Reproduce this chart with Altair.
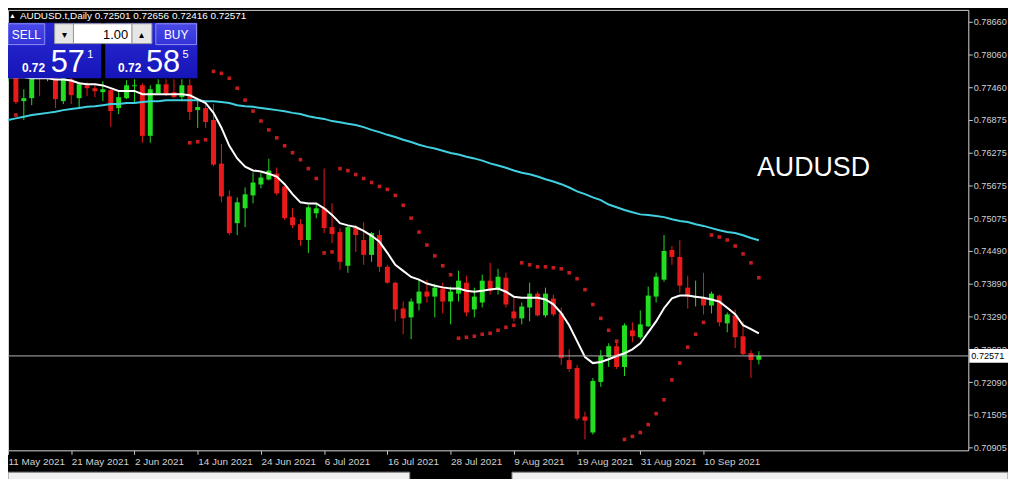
import json
import altair as alt
import pandas as pd

# ---------------- data ----------------
header_text = "AUDUSD.t,Daily  0.72501 0.72656 0.72416 0.72571"
symbol_label = "AUDUSD"
date_labels = ["11 May 2021", "21 May 2021", "2 Jun 2021", "14 Jun 2021", "24 Jun 2021",
               "6 Jul 2021", "16 Jul 2021", "28 Jul 2021", "9 Aug 2021", "19 Aug 2021",
               "31 Aug 2021", "10 Sep 2021"]
date_tick_bars = [0, 8, 16, 24, 32, 40, 48, 56, 64, 72, 80, 88]
price_ticks = [0.78660, 0.78060, 0.77460, 0.76875, 0.76275, 0.75675, 0.75075,
               0.74490, 0.73890, 0.73290, 0.72690, 0.72090, 0.71505, 0.70905]
last_price = 0.72571
bid_big, bid_small, bid_prefix = "57", "1", "0.72"
ask_big, ask_small, ask_prefix = "58", "5", "0.72"
lot_text = "1.00"

opens = [0.77720, 0.77756, 0.77214, 0.77268, 0.77793, 0.77648, 0.77720, 0.77214, 0.77612, 0.77268,
         0.77503, 0.77449, 0.77377, 0.77413, 0.77087, 0.77268, 0.77485, 0.77503, 0.76581, 0.77359,
         0.77521, 0.77377, 0.77286, 0.77503, 0.77051, 0.77087, 0.76871, 0.76075, 0.75478, 0.74990,
         0.75261, 0.75496, 0.75695, 0.75786, 0.75894, 0.75659, 0.75099, 0.74972, 0.74683, 0.75171,
         0.75261, 0.74918, 0.74827, 0.74213, 0.74900, 0.74683, 0.74412, 0.74773, 0.74195, 0.73905,
         0.73435, 0.73273, 0.73526, 0.73743, 0.73652, 0.73797, 0.73562, 0.73706, 0.73905, 0.73417,
         0.73544, 0.73942, 0.73779, 0.73996, 0.73381, 0.73255, 0.73453, 0.73706, 0.73309, 0.73616,
         0.73345, 0.72495, 0.72350, 0.71465, 0.71175, 0.72097, 0.72549, 0.72748, 0.72369, 0.73038,
         0.72911, 0.73110, 0.73652, 0.73960, 0.74502, 0.74375, 0.73815, 0.73634, 0.73634, 0.73490,
         0.73670, 0.73164, 0.73309, 0.72929, 0.72622, 0.72501]
highs = [0.77973, 0.77829, 0.77431, 0.77793, 0.77865, 0.77901, 0.77793, 0.77829, 0.77720, 0.77558,
         0.77558, 0.77521, 0.77576, 0.77431, 0.77377, 0.77594, 0.77612, 0.77539, 0.77503, 0.77612,
         0.77612, 0.77612, 0.77612, 0.77612, 0.77232, 0.77160, 0.77160, 0.76437, 0.75587, 0.75460,
         0.75641, 0.75912, 0.75912, 0.76165, 0.76003, 0.75677, 0.75261, 0.75063, 0.75316, 0.75352,
         0.75985, 0.75352, 0.74900, 0.74954, 0.74954, 0.75008, 0.74827, 0.74864, 0.74231, 0.73923,
         0.73562, 0.73616, 0.73960, 0.73960, 0.73887, 0.73905, 0.73833, 0.74122, 0.74032, 0.73815,
         0.74050, 0.74267, 0.74158, 0.74086, 0.73634, 0.73544, 0.73905, 0.73743, 0.73815, 0.73688,
         0.73453, 0.72694, 0.72405, 0.71555, 0.72170, 0.72676, 0.72802, 0.72839, 0.73164, 0.73182,
         0.73399, 0.73833, 0.74086, 0.74773, 0.74574, 0.74683, 0.74032, 0.73942, 0.74086, 0.73743,
         0.73688, 0.73363, 0.73417, 0.73200, 0.72676, 0.72656]
lows = [0.77576, 0.77160, 0.76871, 0.77142, 0.77304, 0.77576, 0.77087, 0.77160, 0.77160, 0.77087,
        0.77304, 0.77286, 0.77214, 0.76744, 0.76979, 0.77250, 0.77160, 0.76455, 0.76455, 0.77341,
        0.77304, 0.77268, 0.77214, 0.76871, 0.76726, 0.76726, 0.76030, 0.75370, 0.74773, 0.74773,
        0.74918, 0.75352, 0.75623, 0.75768, 0.75496, 0.75044, 0.74900, 0.74574, 0.74448, 0.75081,
        0.74809, 0.74629, 0.74140, 0.74086, 0.74466, 0.74231, 0.74285, 0.74104, 0.73887, 0.73200,
        0.72965, 0.72875, 0.73399, 0.73544, 0.73273, 0.73345, 0.73146, 0.73562, 0.73291, 0.73273,
        0.73453, 0.73688, 0.73688, 0.73453, 0.73200, 0.73146, 0.73200, 0.73291, 0.73273, 0.73291,
        0.72405, 0.72278, 0.71392, 0.71049, 0.71139, 0.72007, 0.72369, 0.72332, 0.72206, 0.72821,
        0.72875, 0.73100, 0.73544, 0.73923, 0.74231, 0.73725, 0.73435, 0.73471, 0.73327, 0.73345,
        0.73110, 0.73001, 0.72712, 0.72586, 0.72170, 0.72416]
closes = [0.77901, 0.77196, 0.77268, 0.77720, 0.77666, 0.77793, 0.77250, 0.77720, 0.77323, 0.77521,
          0.77449, 0.77395, 0.77431, 0.77033, 0.77286, 0.77503, 0.77503, 0.76581, 0.77431, 0.77521,
          0.77359, 0.77286, 0.77503, 0.77015, 0.77106, 0.76834, 0.76057, 0.75478, 0.74809, 0.75370,
          0.75515, 0.75731, 0.75822, 0.75948, 0.75533, 0.75081, 0.74954, 0.74683, 0.75279, 0.75261,
          0.74900, 0.74791, 0.74285, 0.74918, 0.74773, 0.74412, 0.74809, 0.74195, 0.73905, 0.73417,
          0.73255, 0.73562, 0.73743, 0.73652, 0.73815, 0.73562, 0.73743, 0.73942, 0.73363, 0.73652,
          0.73942, 0.73761, 0.74014, 0.73508, 0.73255, 0.73471, 0.73706, 0.73309, 0.73706, 0.73327,
          0.72531, 0.72332, 0.71428, 0.71392, 0.72115, 0.72567, 0.72748, 0.72369, 0.73128, 0.72929,
          0.73146, 0.73670, 0.74014, 0.74484, 0.74375, 0.73851, 0.73652, 0.73652, 0.73490, 0.73706,
          0.73182, 0.73327, 0.72911, 0.72604, 0.72495, 0.72571]
ma_fast = [0.7765, 0.7765, 0.7765, 0.7763, 0.7763, 0.7763, 0.7761, 0.7761, 0.7759, 0.7754,
           0.7752, 0.7752, 0.7750, 0.7745, 0.7740, 0.7740, 0.7740, 0.7734, 0.7734, 0.7734,
           0.7734, 0.7734, 0.7734, 0.7732, 0.7725, 0.7718, 0.7700, 0.7673, 0.7640, 0.7617,
           0.7602, 0.7595, 0.7593, 0.7589, 0.7584, 0.7570, 0.7552, 0.7537, 0.7535, 0.7535,
           0.7526, 0.7514, 0.7499, 0.7495, 0.7492, 0.7485, 0.7476, 0.7465, 0.7445, 0.7423,
           0.7412, 0.7401, 0.7396, 0.7389, 0.7385, 0.7382, 0.7380, 0.7380, 0.7376, 0.7374,
           0.7376, 0.7378, 0.7380, 0.7374, 0.7365, 0.7363, 0.7363, 0.7363, 0.7360, 0.7351,
           0.7335, 0.7313, 0.7284, 0.7255, 0.7244, 0.7246, 0.7251, 0.7257, 0.7262, 0.7269,
           0.7280, 0.7300, 0.7320, 0.7344, 0.7362, 0.7367, 0.7367, 0.7365, 0.7363, 0.7360,
           0.7356, 0.7345, 0.7333, 0.7313, 0.7306, 0.7298]
ma_slow = [0.7687, 0.7690, 0.7693, 0.7696, 0.7698, 0.7700, 0.7702, 0.7705, 0.7707, 0.7709,
           0.7711, 0.7712, 0.7714, 0.7716, 0.7716, 0.7718, 0.7718, 0.7720, 0.7721, 0.7721,
           0.7723, 0.7723, 0.7723, 0.7723, 0.7723, 0.7721, 0.7721, 0.7720, 0.7718, 0.7714,
           0.7712, 0.7711, 0.7709, 0.7707, 0.7705, 0.7703, 0.7700, 0.7698, 0.7694, 0.7691,
           0.7689, 0.7685, 0.7683, 0.7680, 0.7678, 0.7674, 0.7669, 0.7665, 0.7660, 0.7656,
           0.7651, 0.7647, 0.7642, 0.7638, 0.7635, 0.7631, 0.7627, 0.7624, 0.7620, 0.7617,
           0.7613, 0.7608, 0.7604, 0.7600, 0.7595, 0.7591, 0.7588, 0.7584, 0.7579, 0.7575,
           0.7570, 0.7564, 0.7557, 0.7552, 0.7546, 0.7541, 0.7533, 0.7528, 0.7523, 0.7519,
           0.7515, 0.7514, 0.7512, 0.7510, 0.7506, 0.7503, 0.7501, 0.7497, 0.7494, 0.7490,
           0.7486, 0.7483, 0.7481, 0.7477, 0.7472, 0.7468]
sar = [None, 0.76961, None, None, None, None, None, None, None, None,
       None, None, None, None, None, None, None, None, None, None,
       None, None, None, 0.76455, 0.76473, 0.76509, 0.77756, 0.77720, 0.77630, 0.77449,
       0.77232, 0.77033, 0.76852, 0.76690, 0.76545, 0.76400, 0.76274, 0.76147, 0.75985, 0.75804,
       0.74448, 0.74466, 0.75985, 0.75948, 0.75876, 0.75804, 0.75731, 0.75659, 0.75605, 0.75496,
       0.75316, 0.75081, 0.74827, 0.74592, 0.74394, 0.74213, 0.74050, 0.72893, 0.72911, 0.72929,
       0.72965, 0.72983, 0.73038, 0.73092, 0.73128, 0.74267, 0.74231, 0.74195, 0.74195, 0.74177,
       0.74158, 0.74086, 0.73978, 0.73779, 0.73508, 0.73255, 0.73038, 0.72839, 0.71049, 0.71103,
       0.71175, 0.71320, 0.71519, 0.71772, 0.72134, 0.72441, 0.72730, 0.72965, 0.73182, 0.74773,
       0.74737, 0.74683, 0.74574, 0.74430, 0.74267, 0.73996]

# ---------------- tables ----------------
n = len(closes)
df = pd.DataFrame({
    "i": list(range(n)),
    "open": opens, "high": highs, "low": lows, "close": closes,
    "ma_fast": ma_fast, "ma_slow": ma_slow, "sar": sar,
})
df["dir"] = ["up" if c >= o else "down" for o, c in zip(opens, closes)]
sar_df = df[df["sar"].notna()]
dummy = pd.DataFrame({"k": [0]})

# ---------------- styling ----------------
BG = "#000000"
UP = "#22dd22"
DOWN = "#e81a1a"
SAR_C = "#c41c1f"
AXIS_TXT = "#d0d0d0"
FONT = "Liberation Sans"

label_js = json.dumps(date_labels)
xs = alt.Scale(domain=[0, 121.5], nice=False, zero=False)
ys = alt.Scale(domain=[0.70850, 0.78877], nice=False, zero=False)
xaxis = alt.Axis(values=date_tick_bars, labelExpr=f"{label_js}[round(datum.value / 8)]",
                 title=None, grid=False, domain=False, tickColor="#c8c8c8", tickSize=4,
                 labelColor=AXIS_TXT, labelFont=FONT, labelFontSize=10, labelAlign="left",
                 labelBaseline="top", labelPadding=2, labelFlush=False, labelOverlap=False)
yaxis = alt.Axis(values=price_ticks, format=".5f", orient="right", title=None, grid=False,
                 domain=False, tickColor="#c8c8c8", tickSize=4, labelColor=AXIS_TXT,
                 labelFont=FONT, labelFontSize=9.2, labelPadding=1, labelFlush=False,
                 labelOverlap=False, labelBaseline="middle")

X = alt.X("i:Q", scale=xs, axis=xaxis)
def Y(field):
    return alt.Y(f"{field}:Q", scale=ys, axis=yaxis)
def Y2(field):
    return alt.Y2(f"{field}:Q")

col = alt.Color("dir:N", scale=alt.Scale(domain=["up", "down"], range=[UP, DOWN]), legend=None)

base = alt.Chart(df)
wicks = base.mark_rule(strokeWidth=1).encode(x=X, y=Y("high"), y2=Y2("low"), color=col)
bodies = base.mark_rule(strokeWidth=5, strokeCap="butt").encode(x=X, y=Y("open"), y2=Y2("close"), color=col)
slow_line = base.mark_line(color="#40d0e0", strokeWidth=2).encode(x=X, y=Y("ma_slow"))
fast_line = base.mark_line(color="#ffffff", strokeWidth=2).encode(x=X, y=Y("ma_fast"))
sar_pts = alt.Chart(sar_df).mark_point(filled=True, shape="square", size=13, color=SAR_C, opacity=1).encode(x=X, y=Y("sar"))

price_line = alt.Chart(dummy).mark_rule(color="#b4b4b4", strokeWidth=1).encode(
    y=alt.Y(datum=last_price, type="quantitative", scale=ys, axis=yaxis))
price_box = alt.Chart(dummy).mark_rect(color="#ffffff", yOffset=-7, y2Offset=7).encode(
    x=alt.value(969), x2=alt.value(1008),
    y=alt.Y(datum=last_price, type="quantitative", scale=ys, axis=yaxis),
    y2=alt.Y2(datum=last_price))
price_txt = alt.Chart(dummy).mark_text(color="#000000", font=FONT, fontSize=9.2, align="left",
                                       baseline="middle").encode(
    x=alt.value(971), y=alt.Y(datum=last_price, type="quantitative", scale=ys, axis=yaxis),
    text=alt.value(f"{last_price:.5f}"))

def rect(x1, x2, y1, y2, fill, stroke=None):
    kw = dict(fill=fill)
    if stroke:
        kw.update(stroke=stroke, strokeWidth=1)
    return alt.Chart(dummy).mark_rect(**kw).encode(
        x=alt.value(x1), x2=alt.value(x2), y=alt.value(y1), y2=alt.value(y2))

def txt(s, x, y, size, color="#ffffff", align="left", weight="normal", baseline="alphabetic"):
    return alt.Chart(dummy).mark_text(text=s, font=FONT, fontSize=size, color=color, align=align,
                                      fontWeight=weight, baseline=baseline).encode(
        x=alt.value(x), y=alt.value(y))

blue_grad = alt.LinearGradient(gradient="linear", x1=0, x2=0, y1=0, y2=1,
                               stops=[alt.GradientStop(color="#2b2bd6", offset=0),
                                      alt.GradientStop(color="#1515b8", offset=1)])
btn_grad = alt.LinearGradient(gradient="linear", x1=0, x2=0, y1=0, y2=1,
                              stops=[alt.GradientStop(color="#4a4ae8", offset=0),
                                     alt.GradientStop(color="#3232d8", offset=1)])

panel = [
    rect(-1, 94, 13, 69, blue_grad),
    rect(98, 191, 13, 69, blue_grad),
    rect(0, 37, 14, 35, btn_grad, "#8c8cf4"),
    rect(149, 190, 14, 35, btn_grad, "#8c8cf4"),
    rect(47, 66, 14, 34, "#e6e6e6", "#9a9a9a"),
    rect(66, 125, 14, 34, "#ffffff", "#9a9a9a"),
    rect(125, 145, 14, 34, "#e6e6e6", "#9a9a9a"),
    txt("SELL", 18.5, 29, 12, align="center"),
    txt("BUY", 169.5, 29, 12, align="center"),
    txt("\u25BE", 56.5, 28, 10, color="#000000", align="center"),
    txt("\u25B4", 135, 28, 10, color="#000000", align="center"),
    txt(lot_text, 121, 29, 13, color="#000000", align="right"),
    txt(bid_prefix, 14, 63, 12, weight="bold"),
    txt(bid_big, 43, 63, 31),
    txt(bid_small, 80, 49, 11),
    txt(ask_prefix, 111, 63, 12, weight="bold"),
    txt(ask_big, 139, 63, 31),
    txt(ask_small, 176, 49, 11),
]
header = [
    txt("\u25B2", 1, 8, 7),
    txt(header_text, 12, 9, 10),
]
symbol_txt = txt(symbol_label, 755, 167, 27)

tabs = [
    rect(0, 405, 466, 475, "#f0f0f0", "#808080"),
    rect(508, 1008, 466, 475, "#f0f0f0", "#808080"),
]

chart = alt.layer(
    wicks, bodies, slow_line, fast_line, sar_pts, price_line, price_box, price_txt,
    symbol_txt, *panel, *header, *tabs
).properties(
    width=968, height=444,
    autosize=alt.AutoSizeParams(type="none"),
    padding={"left": 0, "top": 0, "right": 40, "bottom": 27},
    background=BG,
).configure_view(stroke="#d8d8d8", strokeWidth=1)

chart.save("out.html", embed_options={"renderer": "svg", "actions": False})
